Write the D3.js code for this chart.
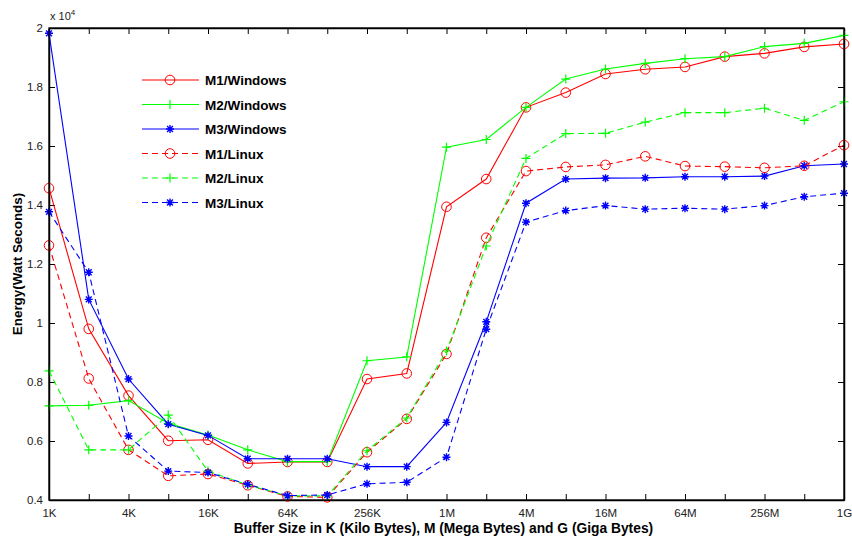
<!DOCTYPE html>
<html><head><meta charset="utf-8">
<script src="https://cdn.jsdelivr.net/npm/d3@7"></script>
<style>body{margin:0;background:#fff}svg{display:block;font-family:"Liberation Sans",Arial,sans-serif}</style>
</head><body><svg id="c" width="852" height="537"></svg>
<script>
const xLabels = ["1K","2K","4K","8K","16K","32K","64K","128K","256K","512K","1M","2M","4M","8M","16M","32M","64M","128M","256M","512M","1G"];
const yTicks = [0.4,0.6,0.8,1,1.2,1.4,1.6,1.8,2];
const m1Windows = [1.457,0.98,0.754,0.601,0.604,0.524,0.529,0.529,0.81,0.829,1.394,1.488,1.731,1.781,1.844,1.86,1.868,1.903,1.914,1.936,1.946];
const m2Windows = [0.719,0.721,0.737,0.66,0.62,0.57,0.53,0.53,0.872,0.885,1.596,1.622,1.731,1.827,1.861,1.88,1.896,1.903,1.937,1.948,1.975];
const m3Windows = [1.982,1.08,0.81,0.657,0.619,0.54,0.54,0.54,0.513,0.513,0.663,1.004,1.406,1.488,1.491,1.492,1.496,1.496,1.498,1.533,1.539];
const m1Linux = [1.263,0.812,0.57,0.482,0.488,0.45,0.412,0.409,0.562,0.675,0.895,1.289,1.515,1.529,1.536,1.565,1.532,1.53,1.526,1.533,1.603];
const m2Linux = [0.838,0.57,0.57,0.688,0.498,0.451,0.414,0.414,0.567,0.678,0.905,1.261,1.558,1.642,1.643,1.681,1.713,1.713,1.728,1.687,1.75];
const m3Linux = [1.377,1.172,0.617,0.498,0.493,0.453,0.415,0.417,0.455,0.46,0.545,0.979,1.342,1.381,1.398,1.386,1.389,1.386,1.398,1.428,1.44];
const seriesNames = ["M1/Windows","M2/Windows","M3/Windows","M1/Linux","M2/Linux","M3/Linux"];
const seriesColors = ["#ff0000","#00ff00","#0000ff","#ff0000","#00ff00","#0000ff"];
const seriesMarkers = ["circle","plus","star","circle","plus","star"];
const seriesDashed = [false,false,false,true,true,true];
const seriesData = [m1Windows,m2Windows,m3Windows,m1Linux,m2Linux,m3Linux];

const svg = d3.select("#c");
const L=49,R=844,T=28,B=500;
const x = d3.scalePoint().domain(xLabels).range([L,R]);
const y = d3.scaleLinear().domain([0.4,2]).range([B,T]);
const g = svg.append("g");

// axes
const tl=6;
const axBottom = g.append("g").attr("transform",`translate(0,${B})`)
  .call(d3.axisBottom(x).tickSizeInner(-tl).tickSizeOuter(0).tickPadding(9).tickFormat((d,i)=> i%2===0? d : ""));
const axTop = g.append("g").attr("transform",`translate(0,${T})`)
  .call(d3.axisTop(x).tickSizeInner(-tl).tickSizeOuter(0).tickFormat(""));
const axLeft = g.append("g").attr("transform",`translate(${L},0)`)
  .call(d3.axisLeft(y).tickValues(yTicks).tickSizeInner(-tl).tickSizeOuter(0).tickPadding(6).tickFormat(d3.format("~g")));
const axRight = g.append("g").attr("transform",`translate(${R},0)`)
  .call(d3.axisRight(y).tickValues(yTicks).tickSizeInner(-tl).tickSizeOuter(0).tickFormat(""));
[axBottom,axTop,axLeft,axRight].forEach(a=>{
  a.selectAll("path").attr("stroke","#000").attr("stroke-width",1.5);
  a.selectAll("line").attr("stroke","#000");
  a.selectAll("text").attr("fill","#222").style("font-size","11.5px");
});
svg.append("rect").attr("x",L).attr("y",T).attr("width",R-L).attr("height",B-T).attr("fill","none").attr("stroke","#000").attr("stroke-width",1.3);

// exponent label
const ex = svg.append("text").attr("x",50).attr("y",20).style("font-size","11px").attr("fill","#222");
ex.append("tspan").text("x 10");
ex.append("tspan").attr("dy",-5).style("font-size","8px").text("4");

// axis titles
svg.append("text").attr("x",(L+R)/2-3).attr("y",533).attr("text-anchor","middle")
  .style("font-size","13.8px").style("font-weight","bold").text("Buffer Size in K (Kilo Bytes), M (Mega Bytes) and G (Giga Bytes)");
svg.append("text").attr("transform",`translate(22,264) rotate(-90)`).attr("text-anchor","middle")
  .style("font-size","13.4px").style("font-weight","bold").text("Energy(Watt Seconds)");

function marker(sel, type, color){
  if(type==="circle"){
    sel.append("circle").attr("r",4.8).attr("fill","none").attr("stroke",color).attr("stroke-width",1);
  } else if(type==="plus"){
    sel.append("path").attr("d","M-4.5,0H4.5M0,-4.5V4.5").attr("stroke",color).attr("stroke-width",1.2);
  } else {
    sel.append("path").attr("d","M-4,0H4M0,-4V4M-2.9,-2.9L2.9,2.9M-2.9,2.9L2.9,-2.9").attr("stroke",color).attr("stroke-width",1.4);
  }
}

const line = d3.line().x((d,i)=>x(xLabels[i])).y(d=>y(d));
seriesData.forEach((data,k)=>{
  const c = seriesColors[k];
  g.append("path").datum(data).attr("d",line).attr("fill","none").attr("stroke",c).attr("stroke-width",1.1)
    .attr("stroke-dasharray",seriesDashed[k]?"6,4":null);
  data.forEach((v,i)=>{
    const m = g.append("g").attr("transform",`translate(${x(xLabels[i])},${y(v)})`);
    marker(m, seriesMarkers[k], c);
  });
});

// legend
const lg = svg.append("g");
seriesNames.forEach((n,k)=>{
  const yy = 80 + k*24.5;
  const c = seriesColors[k];
  lg.append("line").attr("x1",142).attr("x2",199).attr("y1",yy).attr("y2",yy).attr("stroke",c).attr("stroke-width",1.1)
    .attr("stroke-dasharray",seriesDashed[k]?"6,4":null);
  marker(lg.append("g").attr("transform",`translate(170,${yy})`), seriesMarkers[k], c);
  lg.append("text").attr("x",205).attr("y",yy+5).style("font-size","13.5px").style("font-weight","bold").attr("fill","#000").text(n);
});
</script></body></html>
